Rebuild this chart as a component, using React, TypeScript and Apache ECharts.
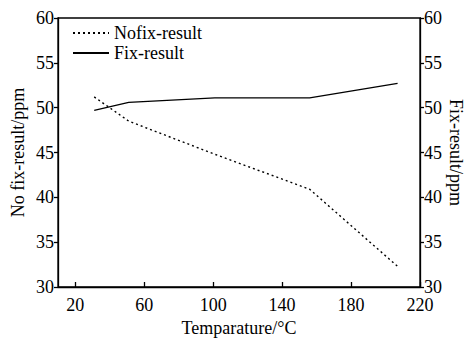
import React, { useEffect, useRef } from "react";
import * as echarts from "echarts";

const xTicks = [20, 60, 100, 140, 180, 220];
const nofixData: [number, number][] = [
  [31, 51.2],
  [51, 48.5],
  [101, 44.8],
  [156, 40.9],
  [207, 32.3],
];
const fixData: [number, number][] = [
  [31, 49.7],
  [51, 50.6],
  [101, 51.1],
  [156, 51.1],
  [207, 52.7],
];

const FONT = "'Liberation Serif', 'Times New Roman', serif";
const FS = 18;

export default function App() {
  const ref = useRef<HTMLDivElement>(null);
  useEffect(() => {
    if (!ref.current) return;
    const chart = echarts.init(ref.current, undefined, { renderer: "svg" });
    const yAxisCommon = {
      type: "value" as const,
      min: 30,
      max: 60,
      interval: 5,
      splitLine: { show: false },
      axisLine: { show: true, lineStyle: { color: "#000", width: 1.3 } },
      axisTick: { show: true, length: 4, lineStyle: { color: "#000", width: 1.3 } },
      axisLabel: { color: "#000", fontFamily: FONT, fontSize: FS, margin: 4 },
      nameLocation: "middle" as const,
      nameMoveOverlap: false,
      nameTextStyle: { color: "#000", fontFamily: FONT, fontSize: FS },
    };
    chart.setOption({
      animation: false,
      backgroundColor: "#fff",
      grid: {
        left: 58,
        right: 50,
        top: 18,
        bottom: 51,
        show: true,
        borderColor: "#000",
        borderWidth: 1.3,
        containLabel: false,
        outerBoundsMode: "none",
      },
      legend: {
        left: 72,
        top: 24,
        padding: 0,
        orient: "vertical",
        itemWidth: 36,
        itemHeight: 10,
        itemGap: 2,
        itemStyle: { opacity: 0 },
        textStyle: { color: "#000", fontFamily: FONT, fontSize: FS },
        data: ["Nofix-result", "Fix-result"],
      },
      xAxis: {
        type: "value",
        min: 10,
        max: 220,
        name: "Temparature/°C",
        nameLocation: "middle",
        nameMoveOverlap: false,
        nameGap: 32,
        nameTextStyle: { color: "#000", fontFamily: FONT, fontSize: FS },
        splitLine: { show: false },
        axisLine: { show: true, lineStyle: { color: "#000", width: 1.3 } },
        axisTick: {
          show: true,
          inside: true,
          length: 5,
          customValues: xTicks,
          lineStyle: { color: "#000", width: 1.3 },
        },
        axisLabel: {
          color: "#000",
          fontFamily: FONT,
          fontSize: FS,
          margin: 9,
          customValues: xTicks,
        },
      },
      yAxis: [
        { ...yAxisCommon, position: "left", name: "No fix-result/ppm", nameGap: 31, nameRotate: 90 },
        { ...yAxisCommon, position: "right", name: "Fix-result/ppm", nameGap: 27, nameRotate: -90 },
      ],
      series: [
        {
          name: "Nofix-result",
          type: "line",
          yAxisIndex: 0,
          data: nofixData,
          symbol: "none",
          lineStyle: { color: "#000", width: 1.4, type: [2, 3] },
          itemStyle: { color: "#000" },
        },
        {
          name: "Fix-result",
          type: "line",
          yAxisIndex: 1,
          data: fixData,
          symbol: "none",
          lineStyle: { color: "#000", width: 1.3, type: "solid" },
          itemStyle: { color: "#000" },
        },
      ],
    });
    return () => chart.dispose();
  }, []);
  return <div ref={ref} style={{ width: 470, height: 338, position: "absolute", left: 0, top: 0 }} />;
}
